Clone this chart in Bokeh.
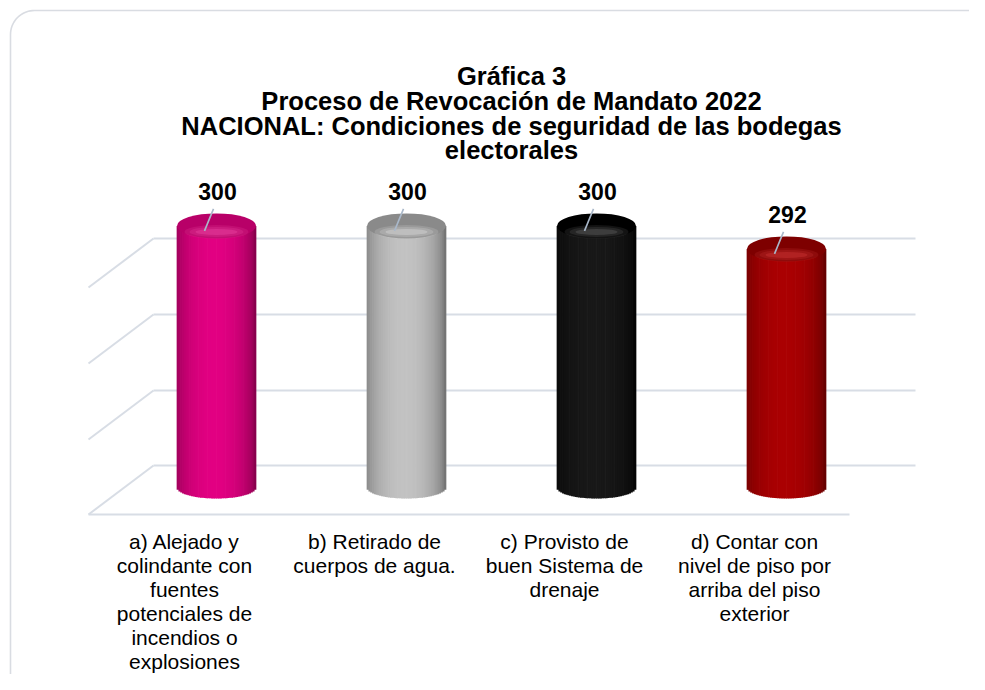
import math
from bokeh.plotting import figure
from bokeh.models import Range1d
from bokeh.core.properties import value
from bokeh.embed import file_html
from bokeh.resources import INLINE

# ---------------- data ----------------
title_lines = [
    "Gráfica 3",
    "Proceso de Revocación de Mandato 2022",
    "NACIONAL: Condiciones de seguridad de las bodegas",
    "electorales",
]
categories = [
    "a) Alejado y\ncolindante con\nfuentes\npotenciales de\nincendios o\nexplosiones",
    "b) Retirado de\ncuerpos de agua.",
    "c) Provisto de\nbuen Sistema de\ndrenaje",
    "d) Contar con\nnivel de piso por\narriba del piso\nexterior",
]
values = [300, 300, 300, 292]
axis_min = 209  # estimated floor of the value axis

# ---------------- styles ----------------
body_dark = [(118, 0, 66), (100, 100, 100), (0, 0, 0), (88, 0, 0)]
body_bright = [(226, 0, 130), (194, 194, 194), (24, 24, 24), (170, 0, 2)]
top_fill = ["#B80068", "#8A8A8A", "#000000", "#7E0000"]
top_glow = ["#F24CA8", "#E4E4E4", "#6A6A6A", "#D83C3C"]

W, H = 969, 674
FONT = "Liberation Sans"
slot_px = 190.0          # horizontal distance between bars (px)
first_px = 216.0         # canvas x of first bar centre
px_per_unit = 2.875      # vertical px per value unit
base_px = 487.0          # canvas y of the floor (mid depth)
R = 39.5                 # cylinder radius (px)
B = 11.0                 # ellipse half height (px)

p = figure(width=W, height=H, x_range=Range1d(0, W), y_range=Range1d(H, 0),
           output_backend="svg", toolbar_location=None, min_border=0,
           x_axis_location=None, y_axis_location=None,
           outline_line_color=None, background_fill_color="white",
           border_fill_color="white")
p.grid.visible = False

p.extra_x_ranges = {"cat": Range1d(-first_px / slot_px, (W - first_px) / slot_px)}
p.extra_y_ranges = {"val": Range1d(axis_min - (H - base_px) / px_per_unit,
                                   axis_min + base_px / px_per_unit)}

# ---------------- frame border ----------------
rad = 24
x0b, y0b = 10, 10
bx, by = [x0b, x0b], [H, y0b + rad]
for a in range(0, 91, 5):
    t = math.radians(180 + a)
    bx.append(x0b + rad + rad * math.cos(t))
    by.append(y0b + rad + rad * math.sin(t))
bx.append(W)
by.append(y0b)
p.line(bx, by, line_color="#D9DCE2", line_width=1.6)

# ---------------- 3D floor / wall gridlines ----------------
grid_c = "#D8DDE5"
back_left, back_right = 153, 915
front_left, front_right = 88, 849
wall_y = [238, 314, 390, 465]
for y in wall_y:
    p.line([back_left, back_right], [y, y], line_color=grid_c, line_width=2)
    p.line([back_left, front_left], [y, y + 49], line_color=grid_c, line_width=2)
p.line([front_left, front_right], [514, 514], line_color=grid_c, line_width=2.2)

# ---------------- title ----------------
title_y = [75, 100, 125, 149]
p.text(x=[511] * len(title_lines), y=title_y, text=title_lines,
       text_font=value(FONT), text_font_style="bold", text_font_size="25.5px",
       text_align="center", text_baseline="middle", text_color="#000000")

# ---------------- cylinders ----------------
def mix(c1, c2, f):
    return "#%02x%02x%02x" % tuple(int(round(a + (b - a) * f)) for a, b in zip(c1, c2))

N = 44
for i, v in enumerate(values):
    lefts, rights, bottoms, tops, cols = [], [], [], [], []
    for s in range(N):
        t = -1 + (2 * s + 1) / N
        dx = t * R
        w = 2 * R / N
        f = max(0.0, 1 - ((t + 0.05) / 1.05) ** 2) ** 0.55
        lefts.append(i + (dx - w / 2 - 0.35) / slot_px)
        rights.append(i + (dx + w / 2 + 0.35) / slot_px)
        arc = B * math.sqrt(max(0.0, 1 - t * t))
        bottoms.append(axis_min - arc / px_per_unit)
        tops.append(v)
        cols.append(mix(body_dark[i], body_bright[i], f))
    p.quad(left=lefts, right=rights, bottom=bottoms, top=tops, fill_color=cols,
           line_color=None, x_range_name="cat", y_range_name="val")
    # top face (dome-like, with a soft glow near the front rim)
    p.ellipse(x=[i], y=[v], width=2 * R, height=2 * B + 3, width_units="screen",
              height_units="screen", fill_color=top_fill[i], line_color=None,
              x_range_name="cat", y_range_name="val")
    for k, (gw, gh, ga) in enumerate([(64, 14, 0.18), (54, 10, 0.22), (42, 6, 0.35)]):
        p.ellipse(x=[i], y=[v - 6 / px_per_unit], width=gw, height=gh,
                  width_units="screen", height_units="screen", fill_color=top_glow[i],
                  fill_alpha=ga, line_color=None, x_range_name="cat", y_range_name="val")

# ---------------- value labels + leader lines ----------------
idx = list(range(len(values)))
p.segment(x0=[i - 3 / slot_px for i in idx], y0=[v + 17 / px_per_unit for v in values],
          x1=[i - 12 / slot_px for i in idx], y1=[v - 5 / px_per_unit for v in values],
          line_color="#A9B8CA", line_width=1.6, x_range_name="cat", y_range_name="val")
p.text(x=idx, y=values, text=[str(v) for v in values], x_offset=1, y_offset=-34,
       text_font=value(FONT), text_font_style="bold", text_font_size="23px",
       text_align="center", text_baseline="middle", text_color="#000000",
       x_range_name="cat", y_range_name="val")

# ---------------- category labels ----------------
lx, ly, lt = [], [], []
for i, c in enumerate(categories):
    for j, line in enumerate(c.split("\n")):
        lx.append(i)
        ly.append(541 + 24 * j)
        lt.append(line)
p.text(x=lx, y=ly, text=lt, x_offset=-32, text_font=value(FONT),
       text_font_size="21px", text_align="center", text_baseline="middle",
       text_color="#000000", x_range_name="cat")

open("out.html", "w").write(file_html(p, INLINE))
